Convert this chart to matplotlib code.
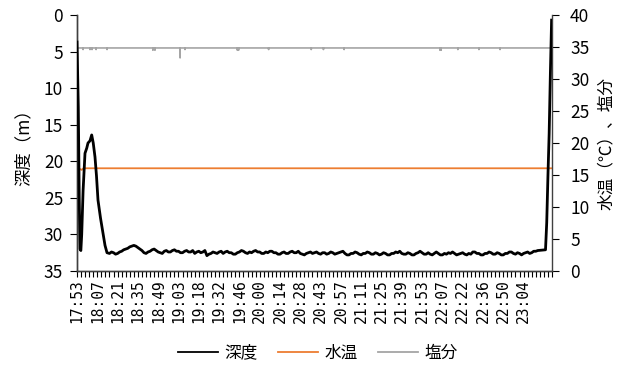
import numpy as np
import matplotlib.pyplot as plt
from matplotlib.lines import Line2D
from matplotlib.ticker import MultipleLocator, FixedLocator

plt.rcParams['font.family'] = ['Noto Sans CJK JP', 'DejaVu Sans']

# x is measured in axis tick steps (one label every 5 ticks)
time_labels = ["17:53", "18:07", "18:21", "18:35", "18:49", "19:03", "19:18",
               "19:32", "19:46", "20:00", "20:14", "20:28", "20:43", "20:57",
               "21:11", "21:25", "21:39", "21:53", "22:07", "22:22", "22:36",
               "22:50", "23:04"]
label_step = 5
n_ticks = 117

# depth (m): descent, rise, bottom, ascent
depth_x_start = [0, 0.15, 0.32, 0.55, 0.74, 0.95, 1.16, 1.5, 1.97, 2.4, 2.71,
                 3.2, 3.62, 4.0, 4.43, 4.8, 5.17, 5.8, 6.4, 6.9, 7.39]
depth_start = [3.7, 8.0, 12.6, 25.0, 32.0, 32.2, 30.0, 24.0, 18.9, 18.2, 17.5,
               17.2, 16.4, 17.5, 19.4, 22.0, 25.3, 27.8, 29.8, 31.5, 32.5]
# bottom part, one value every half tick from x=8
depth_bottom = [32.6, 32.4, 32.5, 32.7, 32.6, 32.4, 32.3, 32.1, 32.0, 31.9,
                31.7, 31.6, 31.5, 31.6, 31.8, 32.0, 32.2, 32.5, 32.6, 32.4,
                32.3, 32.1, 32.0, 32.2, 32.4, 32.5, 32.6, 32.3, 32.2, 32.4,
                32.4, 32.2, 32.1, 32.3, 32.3, 32.5, 32.5, 32.3, 32.2, 32.4,
                32.4, 32.2, 32.6, 32.4, 32.3, 32.5, 32.4, 32.2, 32.9, 32.7,
                32.6, 32.4, 32.5, 32.6, 32.4, 32.3, 32.6, 32.4, 32.3, 32.5,
                32.5, 32.7, 32.7, 32.5, 32.4, 32.2, 32.3, 32.5, 32.6, 32.4,
                32.5, 32.3, 32.2, 32.4, 32.4, 32.6, 32.6, 32.4, 32.5, 32.3,
                32.3, 32.5, 32.5, 32.7, 32.7, 32.5, 32.4, 32.6, 32.6, 32.4,
                32.3, 32.5, 32.5, 32.3, 32.6, 32.7, 32.8, 32.6, 32.5, 32.4,
                32.6, 32.5, 32.4, 32.6, 32.7, 32.5, 32.5, 32.7, 32.6, 32.4,
                32.5, 32.7, 32.6, 32.5, 32.4, 32.3, 32.6, 32.8, 32.8, 32.6,
                32.6, 32.4, 32.5, 32.7, 32.8, 32.6, 32.6, 32.4, 32.5, 32.7,
                32.7, 32.5, 32.6, 32.8, 32.7, 32.5, 32.6, 32.8, 32.8, 32.6,
                32.6, 32.4, 32.5, 32.3, 32.6, 32.7, 32.7, 32.5, 32.6, 32.8,
                32.8, 32.6, 32.5, 32.3, 32.5, 32.7, 32.7, 32.5, 32.7, 32.8,
                32.6, 32.4, 32.6, 32.8, 32.8, 32.6, 32.7, 32.5, 32.6, 32.4,
                32.6, 32.8, 32.7, 32.6, 32.5, 32.7, 32.8, 32.6, 32.7, 32.4,
                32.4, 32.6, 32.6, 32.8, 32.8, 32.6, 32.6, 32.4, 32.5, 32.7,
                32.7, 32.5, 32.6, 32.8, 32.8, 32.6, 32.6, 32.4, 32.4, 32.6,
                32.7, 32.5, 32.6, 32.8, 32.6, 32.5, 32.4, 32.6, 32.5, 32.3,
                32.3, 32.2]
depth_x_end = [115.4, 115.7, 116.0, 116.3, 116.6, 116.9]
depth_end = [32.1, 28.4, 22.0, 16.2, 8.0, 0.7]

# water temperature (degC)
temp_x = [0, 0.5, 1.16, 1.6, 116.9]
temp = [16.3, 16.0, 15.8, 16.05, 16.05]

# salinity: steady value with short dips
sal_base = 34.85
sal_dip_x = [1.5, 3.2, 3.7, 4.7, 7.4, 18.7, 19.2, 25.4, 26.6, 39.5, 39.8,
             47.2, 57.7, 60.7, 65.8, 89.4, 89.7, 93.8, 99.0, 104.2]
sal_dip = [34.6, 34.6, 34.6, 34.6, 34.6, 34.5, 34.5, 33.3, 34.6, 34.5, 34.5,
           34.6, 34.6, 34.6, 34.6, 34.5, 34.5, 34.6, 34.6, 34.6]

depth_x = np.concatenate([depth_x_start,
                          8 + 0.5 * np.arange(len(depth_bottom)),
                          depth_x_end])
depth = np.concatenate([depth_start, depth_bottom, depth_end])

sal_x, sal = [0.0], [sal_base]
for dx, dv in zip(sal_dip_x, sal_dip):
    sal_x += [dx - 0.01, dx, dx + 0.01]
    sal += [sal_base, dv, sal_base]
sal_x.append(116.9)
sal.append(sal_base)

colors = {"深度": "black", "水温": "#ED7D31", "塩分": "#A5A5A5"}

fig = plt.figure(figsize=(6.27, 3.74), dpi=100)
ax = fig.add_axes([77 / 627, 1 - 271 / 374, 475 / 627, 256 / 374])
ax2 = ax.twinx()

ax.plot(depth_x, depth, color=colors["深度"], lw=2.0, zorder=3)
ax2.plot(temp_x, temp, color=colors["水温"], lw=1.3)
ax2.plot(sal_x, sal, color=colors["塩分"], lw=1.2)
ax.set_zorder(ax2.get_zorder() + 1)
ax.patch.set_visible(False)

ax.set_xlim(0, n_ticks)
ax.set_ylim(35, 0)
ax2.set_ylim(0, 40)
ax.yaxis.set_major_locator(MultipleLocator(5))
ax2.yaxis.set_major_locator(MultipleLocator(5))
ax.xaxis.set_major_locator(FixedLocator(np.arange(len(time_labels)) * label_step))
ax.xaxis.set_minor_locator(MultipleLocator(1))
ax.set_xticklabels(time_labels, rotation=90, family="DejaVu Sans Mono", fontsize=10.5)

for a in (ax, ax2):
    a.spines["top"].set_visible(False)
    for s in a.spines.values():
        s.set_color("#404040")
        s.set_linewidth(1.0)
ax.spines["right"].set_visible(False)
ax.tick_params(axis="x", which="both", length=4, width=0.8, pad=2, direction="out")
ax.tick_params(axis="y", length=5, width=0.8, pad=5, labelsize=12.5)
ax2.tick_params(axis="y", length=5, width=0.8, pad=8, labelsize=12.5)

ax.set_ylabel("深度（m）", fontsize=12.5, labelpad=8)
ax2.set_ylabel("水温（℃）、塩分", fontsize=12, labelpad=6)

handles = [Line2D([], [], color=c, lw=1.3) for c in colors.values()]
fig.legend(handles, list(colors.keys()), loc="center",
           bbox_to_anchor=(0.507, 0.056), ncol=3, frameon=False, fontsize=12,
           handlelength=2.4, columnspacing=1.2, handletextpad=0.4)

fig.savefig("out.png", dpi=100)
